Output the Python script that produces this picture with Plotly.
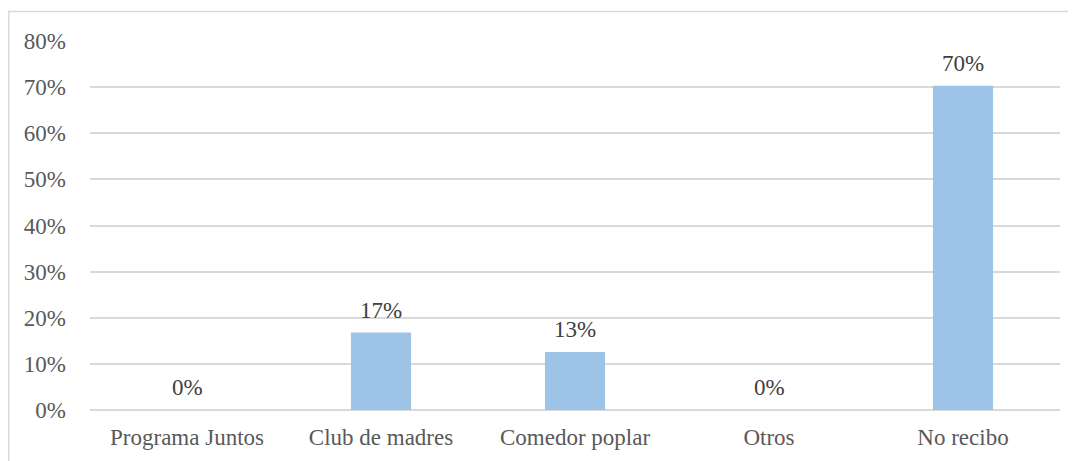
import plotly.graph_objects as go

categories = ["Programa Juntos", "Club de madres", "Comedor poplar", "Otros", "No recibo"]
values = [0, 16.8, 12.6, 0, 70.3]
labels = ["0%", "17%", "13%", "0%", "70%"]
tick_vals = [0, 10, 20, 30, 40, 50, 60, 70, 80]
tick_text = ["0%", "10%", "20%", "30%", "40%", "50%", "60%", "70%", "80%"]

FONT = "Liberation Serif, Times New Roman, serif"
FS = 23

fig = go.Figure()
fig.add_trace(go.Bar(
    x=categories, y=values,
    marker=dict(color="#9DC3E6", line=dict(width=0)),
    width=0.31,
    hoverinfo="skip",
))

for c, v, t in zip(categories, values, labels):
    fig.add_annotation(x=c, y=v, text=t, showarrow=False, yanchor="bottom",
                       yshift=8, font=dict(family=FONT, size=FS, color="#404040"))

# page body has an 8px margin, so compensate
L, R, T, B = 82, 24, 33, 59
W, H = 1076, 461
pw, ph = W - L - R, H - T - B
fig.add_shape(type="rect", xref="paper", yref="paper",
              x0=(0.75 - L) / pw, x1=(W + 20 - L) / pw,
              y0=-(B + 20) / ph, y1=(H - B - 3.5) / ph,
              line=dict(color="#d9d9d9", width=1.5), fillcolor="rgba(0,0,0,0)", layer="below")

fig.update_layout(
    width=W, height=H,
    margin=dict(l=L, r=R, t=T, b=B),
    paper_bgcolor="white", plot_bgcolor="white",
    showlegend=False,
    font=dict(family=FONT, size=FS, color="#595959"),
    xaxis=dict(showgrid=False, showline=False, zeroline=False, ticks="",
               tickfont=dict(family=FONT, size=FS, color="#595959"), ticklabelstandoff=11),
    yaxis=dict(range=[0, 80], tickvals=tick_vals, ticktext=tick_text,
               showgrid=True, gridcolor="#d9d9d9", gridwidth=1.5,
               zeroline=True, zerolinecolor="#d9d9d9", zerolinewidth=1.5,
               showline=False, ticks="", ticklabelstandoff=23,
               tickfont=dict(family=FONT, size=FS, color="#595959")),
)

fig.write_html("out.html")
